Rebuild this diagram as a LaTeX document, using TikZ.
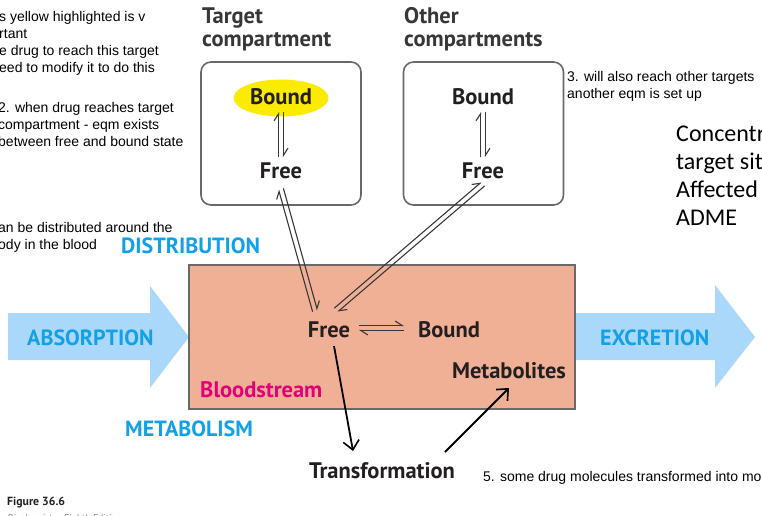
\documentclass[tikz,border=0pt]{standalone}
\usepackage{fontspec}
\setmainfont{Liberation Sans}
\newfontfamily\labfont{PT Sans}
\newfontfamily\calfont{Carlito}
\usetikzlibrary{arrows.meta,calc,shapes.geometric}
\definecolor{labgray}{RGB}{35,31,32}
\definecolor{headgray}{RGB}{55,55,55}
\definecolor{boxgray}{RGB}{105,105,105}
\definecolor{admeblue}{RGB}{20,160,230}
\definecolor{arrowblue}{RGB}{170,216,250}
\definecolor{salmon}{RGB}{240,176,150}
\definecolor{bloodpink}{RGB}{226,0,122}
\definecolor{hlyellow}{RGB}{250,235,0}
\newcommand{\eqpair}[2]{%
  \draw[eqline] ($(#1)!2.5pt!90:(#2)$) -- ($(#2)!2.5pt!-90:(#1)$);
  \draw[eqline] ($(#2)!2.5pt!90:(#1)$) -- ($(#1)!2.5pt!-90:(#2)$);}
\tikzset{
  note/.style={anchor=base west, inner sep=0pt, font=\fontsize{14}{17}\selectfont, text=black, align=left},
  lbl/.style={anchor=base, inner sep=0pt, font=\labfont\bfseries\fontsize{22.5}{24}\selectfont, text=labgray},
  head/.style={anchor=base west, inner sep=0pt, font=\labfont\bfseries\fontsize{22.5}{23}\selectfont, text=headgray},
  process/.style={anchor=base west, inner sep=0pt, font=\labfont\bfseries\fontsize{22}{24}\selectfont, text=admeblue},
  compbox/.style={draw=boxgray, line width=1.6pt, rounded corners=10pt, minimum width=160pt, minimum height=143pt, inner sep=0pt},
  bloodbox/.style={draw=boxgray, line width=1.3pt, fill=salmon, minimum width=386pt, minimum height=144pt, inner sep=0pt},
  eqline/.style={draw=headgray, line width=1.1pt, -{Straight Barb[left,length=7pt,width=9pt]}},
  trarrow/.style={draw=black, line width=1.8pt, -{Straight Barb[length=9pt,width=16pt,line width=1.6pt]}},
  bigarrow/.style={fill=arrowblue, draw=none},
}
\begin{document}
\begin{tikzpicture}[x=1pt,y=-1pt]
\useasboundingbox (0,0) rectangle (762,515);
% annotations (anchor base = baseline of the last line)
\node[note] (n1) at (-1,72) {s yellow highlighted is v\\rtant\\e drug to reach this target\\eed to modify it to do this};
\node[note] (n2) at (-2,146) {2. when drug reaches target\\compartment - eqm exists\\between free and bound state};
\node[note] (n3) at (-2,249) {an be distributed around the\\ody in the blood};
\node[note] (n4) at (567,98) {3. will also reach other targets\\another eqm is set up};
\node[note] (n5) at (483,481) {5. some drug molecules transformed into mo};
\node[anchor=base west, inner sep=0pt, font=\calfont\fontsize{24}{28}\selectfont, align=left] (adme) at (676,225) {Concentr\\target sit\\Affected\\ADME};
% headings
\node[head, align=left] (thead) at (202,46) {Target\\compartment};
\node[head, align=left] (ohead) at (404,46) {Other\\compartments};
% boxes
\node[compbox] (tbox) at (281,133.5) {};
\node[compbox] (obox) at (483.5,133.5) {};
% big arrows
\fill[bigarrow] (8,313) -- (150,313) -- (150,286) -- (189,337) -- (150,388) -- (150,360) -- (8,360) -- cycle;
\fill[bigarrow] (570,313) -- (715,313) -- (715,285) -- (755,337) -- (715,388) -- (715,360) -- (570,360) -- cycle;
\node[bloodbox] (blood) at (382,337) {};
\node[process] (abs) at (27,345) {ABSORPTION};
\node[process] (exc) at (600,345) {EXCRETION};
\node[process] (dist) at (121,253) {DISTRIBUTION};
\node[process] (met) at (125,436) {METABOLISM};
\node[anchor=base west, inner sep=0pt, font=\labfont\bfseries\fontsize{22.5}{24}\selectfont, text=bloodpink] (bs) at (200,397) {Bloodstream};
% target compartment
\node[fill=hlyellow, ellipse, minimum width=95pt, minimum height=37pt, inner sep=0pt] (hl) at (281,98) {};
\node[lbl] (tbound) at (281,104) {Bound};
\node[lbl] (tfree) at (281,178) {Free};
% other compartment
\node[lbl] (obound) at (483,104) {Bound};
\node[lbl] (ofree) at (483,178) {Free};
% bloodstream
\node[lbl] (bfree) at (329,337) {Free};
\node[lbl] (bbound) at (449,337) {Bound};
\node[lbl] (metab) at (509,378) {Metabolites};
\node[lbl] (trans) at (382,478) {Transformation};
\node[anchor=base west, inner sep=0pt, font=\labfont\bfseries\fontsize{11.8}{13}\selectfont, text=labgray] (fig) at (7,505) {Figure 36.6};
\node[anchor=base west, inner sep=0pt, font=\labfont\itshape\fontsize{10}{12}\selectfont, text=gray] (book) at (7,521) {Biochemistry, Eighth Edition};
% equilibrium connectors
\coordinate (tv1) at (281,112); \coordinate (tv2) at (281,157);
\coordinate (ov1) at (483,112); \coordinate (ov2) at (483,157);
\coordinate (bh1) at (359,328); \coordinate (bh2) at (404,328);
\coordinate (td1) at (281,189); \coordinate (td2) at (315,311);
\coordinate (od1) at (483,184); \coordinate (od2) at (336,310);
\eqpair{tv1}{tv2}
\eqpair{ov1}{ov2}
\eqpair{bh1}{bh2}
\eqpair{td1}{td2}
\eqpair{od1}{od2}
% transformation arrows
\coordinate (tr1) at (334,346); \coordinate (tr2) at (353,451);
\coordinate (mt1) at (445,452); \coordinate (mt2) at (509,388);
\draw[trarrow] (tr1) -- (tr2);
\draw[trarrow] (mt1) -- (mt2);
\end{tikzpicture}
\end{document}
